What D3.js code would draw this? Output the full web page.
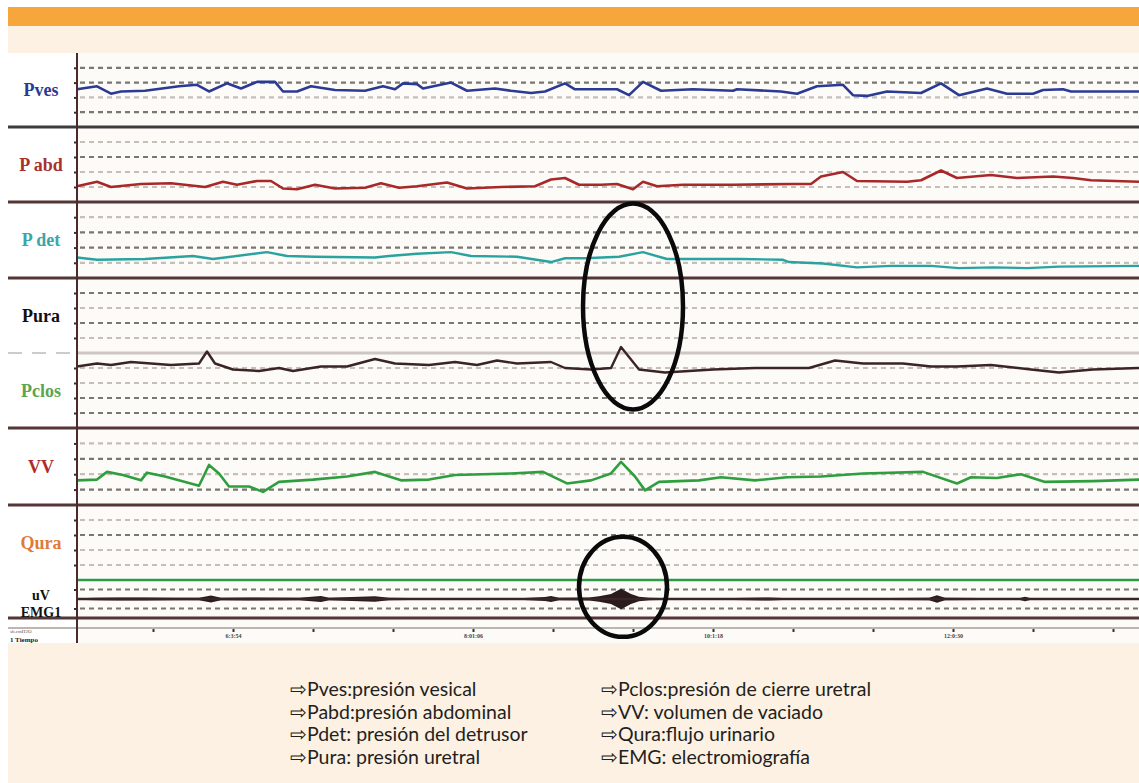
<!DOCTYPE html>
<html>
<head>
<meta charset="utf-8">
<script src="https://cdn.jsdelivr.net/npm/d3@7"></script>
<style>
  body { margin: 0; background: #fff; }
  svg { display: block; }
</style>
</head>
<body>
<svg id="chart" width="1139" height="783"></svg>
<script>
// time in seconds from the start of the tracing window
const timeExtent = [0, 531];

// pressure traces, [time, value] (0-100 of each channel's window)
const pvesData = [[0,51],[10,55],[17,45],[22,48],[34,49],[51,55],[60,57],[66,48],[75,59],[82,52],[90,61],[99,61],[103,48],[110,48],[117,55],[129,50],[144,49],[153,55],[159,51],[163,59],[170,58],[173,52],[187,60],[195,49],[209,52],[217,49],[227,46],[234,48],[244,59],[249,51],[262,51],[270,51],[276,43],[283,61],[292,49],[308,51],[328,49],[330,51],[352,48],[360,45],[370,55],[383,57],[388,43],[395,42],[405,48],[422,46],[432,59],[441,43],[455,52],[465,45],[478,45],[483,50],[493,51],[497,48],[531,48]];

const pabdData = [[0,21],[10,27],[17,20],[32,24],[47,25],[64,20],[73,27],[80,23],[90,28],[97,28],[103,18],[110,17],[119,23],[129,18],[144,19],[152,25],[161,19],[170,21],[185,26],[195,18],[212,20],[229,21],[237,30],[244,32],[251,23],[262,23],[270,24],[278,17],[283,27],[290,21],[303,23],[328,23],[358,24],[367,24],[372,34],[383,40],[390,28],[415,27],[422,29],[432,42],[440,32],[457,36],[470,32],[488,34],[498,32],[507,29],[531,27]];

const pdetData = [[0,27],[10,24],[34,25],[58,29],[68,25],[95,34],[105,29],[119,28],[149,27],[156,29],[170,32],[187,34],[197,29],[220,28],[237,21],[244,26],[254,26],[271,28],[283,34],[295,25],[332,25],[353,24],[356,21],[373,19],[390,14],[407,16],[427,16],[441,13],[458,14],[475,13],[491,15],[531,16]];

const puraData = [[0,41],[10,43],[17,42],[27,44],[37,43],[47,42],[61,43],[65,51],[69,43],[78,39],[91,38],[101,40],[108,38],[122,41],[135,41],[149,46],[159,43],[176,42],[189,44],[200,42],[210,45],[220,43],[237,44],[244,40],[257,39],[267,40],[272,54],[281,39],[294,37],[318,39],[339,40],[366,40],[379,45],[393,43],[413,43],[427,41],[440,41],[457,42],[477,39],[491,37],[508,39],[531,40]];

const vvData = [[0,32],[10,33],[15,43],[23,39],[32,32],[35,42],[44,37],[61,25],[66,52],[71,41],[76,24],[86,24],[93,17],[101,30],[118,33],[135,37],[149,43],[162,32],[176,33],[189,39],[217,41],[233,43],[245,28],[257,32],[267,41],[272,56],[279,37],[284,19],[291,30],[311,32],[322,36],[339,32],[355,36],[372,37],[393,41],[423,43],[440,28],[447,36],[460,35],[472,40],[484,30],[508,31],[531,33]];

const quraData = [[0,0],[531,0]];

// EMG envelope, [time, half amplitude in uV]
const emgData = [[0,2],[9,3],[20,4],[34,4],[50,3],[61,3],[67,9],[72,3],[86,4],[111,3],[122,8],[126,3],[149,7],[156,3],[176,2],[221,2],[234,5],[237,8],[241,3],[256,4],[261,7],[267,13],[272,27],[277,13],[281,6],[286,3],[296,2],[321,2],[346,4],[356,2],[386,2],[426,3],[430,10],[434,3],[471,2],[474,6],[477,2],[531,2]];

const gridLevels = [20, 40, 60, 80];
const emgGrid = [-25, 25];

const timeTicks = [38, 78, 118, 158, 198, 238, 278, 318, 358, 398, 438, 478, 518];
const timeLabels = { 78: '6:3:54', 198: '8:01:06', 318: '10:1:18', 438: '12:0:30' };

const legendLeft = ['Pves:presión vesical', 'Pabd:presión abdominal', 'Pdet: presión del detrusor', 'Pura: presión uretral'];
const legendRight = ['Pclos:presión de cierre uretral', 'VV: volumen de vaciado', 'Qura:flujo urinario', 'EMG: electromiografía'];

const W = 1139, H = 783;
const plotLeft = 77, plotRight = 1139;
const chartTop = 53, chartBottom = 643;

const svg = d3.select('#chart');

// page background bands
svg.append('rect').attr('x', 8).attr('y', 7).attr('width', W - 8).attr('height', 19).attr('fill', '#f7a63c');
svg.append('rect').attr('x', 8).attr('y', 26).attr('width', W - 8).attr('height', 27).attr('fill', '#fdf1e3');
svg.append('rect').attr('x', 8).attr('y', chartBottom).attr('width', W - 8).attr('height', H - chartBottom).attr('fill', '#fdf1e3');
svg.append('rect').attr('x', 8).attr('y', chartTop).attr('width', plotLeft - 8).attr('height', chartBottom - chartTop).attr('fill', '#ffffff');
svg.append('rect').attr('x', plotLeft).attr('y', chartTop).attr('width', plotRight - plotLeft).attr('height', chartBottom - chartTop).attr('fill', '#fdfbf8');

const x = d3.scaleLinear().domain(timeExtent).range([plotLeft, plotRight]);

// one strip per channel; shade says which dotted rows print dark
const panels = [
  { label: ['Pves'], color: '#2b3a92', top: 53, bottom: 127, domain: [0, 100], grid: gridLevels, shade: [1, 0, 1, 1] },
  { label: ['P abd'], color: '#a8322b', top: 127, bottom: 202, domain: [0, 100], grid: gridLevels, shade: [0, 0, 1, 0] },
  { label: ['P det'], color: '#3aa7a6', top: 202, bottom: 278, domain: [0, 100], grid: gridLevels, shade: [0, 1, 1, 0] },
  { label: ['Pura'], color: '#111111', top: 278, bottom: 353, domain: [0, 100], grid: gridLevels, shade: [0, 1, 0, 1] },
  { label: ['Pclos'], color: '#5aa552', top: 353, bottom: 428, domain: [0, 100], grid: gridLevels, shade: [1, 1, 0, 0] },
  { label: ['VV'], color: '#b02c28', top: 428, bottom: 505, domain: [0, 100], grid: gridLevels, shade: [1, 0, 1, 0] },
  { label: ['Qura'], color: '#e0793a', top: 505, bottom: 580, domain: [0, 100], grid: gridLevels, shade: [0, 0, 1, 0] },
  { label: ['uV', 'EMG1'], color: '#111111', top: 580, bottom: 618, domain: [-50, 50], grid: emgGrid, shade: [1, 1] }
];
panels.forEach(p => {
  p.y = d3.scaleLinear().domain(p.domain).range([p.bottom, p.top]);
});

// dotted reference rows
panels.forEach(p => {
  svg.append('g')
    .selectAll('line')
    .data(p.grid)
    .join('line')
    .attr('x1', plotLeft + 3)
    .attr('x2', plotRight)
    .attr('y1', d => p.y(d))
    .attr('y2', d => p.y(d))
    .attr('stroke', (d, i) => p.shade[i] ? '#7a7670' : '#c4bfb8')
    .attr('stroke-width', 2.2)
    .attr('stroke-dasharray', '5,4');

  // little tick dots on the left axis
  svg.append('g')
    .attr('transform', `translate(${plotLeft},0)`)
    .call(d3.axisLeft(p.y).tickValues(p.grid).tickSize(3).tickFormat(''))
    .call(g => g.select('.domain').remove())
    .call(g => g.selectAll('line').attr('stroke', '#3a2a2a').attr('stroke-width', 2));
});

// strip separators
const separators = [127, 202, 278, 428, 505, 618];
svg.append('g')
  .selectAll('line')
  .data(separators)
  .join('line')
  .attr('x1', 8)
  .attr('x2', plotRight)
  .attr('y1', d => d)
  .attr('y2', d => d)
  .attr('stroke', (d, i) => i === 0 ? '#3c3c3c' : '#553636')
  .attr('stroke-width', 3);

// Pura / Pclos split
svg.append('line').attr('x1', plotLeft).attr('x2', plotRight).attr('y1', 353).attr('y2', 353)
  .attr('stroke', '#cdc6c2').attr('stroke-width', 3);
svg.append('line').attr('x1', 8).attr('x2', plotLeft).attr('y1', 353).attr('y2', 353)
  .attr('stroke', '#999').attr('stroke-width', 1).attr('stroke-dasharray', '14,10');

// time row
svg.append('line').attr('x1', 8).attr('x2', plotRight).attr('y1', 628).attr('y2', 628)
  .attr('stroke', '#bdb5b0').attr('stroke-width', 2);
svg.append('g')
  .attr('transform', 'translate(0,629)')
  .call(d3.axisBottom(x).tickValues(timeTicks).tickSize(3).tickFormat(d => timeLabels[d] || ''))
  .call(g => g.select('.domain').remove())
  .call(g => g.selectAll('line').attr('stroke', '#333').attr('stroke-width', 2))
  .call(g => g.selectAll('text').attr('dy', '0.5em').attr('font-size', 6).attr('font-family', 'Liberation Serif').attr('font-weight', 'bold').attr('fill', '#444'));

// traces
const line = y => d3.line().x(d => x(d[0])).y(d => y(d[1]));
const traces = [
  { data: pvesData, panel: 0, color: '#2b3a92', width: 2.6 },
  { data: pabdData, panel: 1, color: '#a8282a', width: 2.6 },
  { data: pdetData, panel: 2, color: '#2aa3a0', width: 2.4 },
  { data: vvData, panel: 5, color: '#2f9e3e', width: 2.6 },
  { data: quraData, panel: 6, color: '#2e9a48', width: 2.4 }
];
traces.forEach(t => {
  svg.append('path')
    .datum(t.data)
    .attr('fill', 'none')
    .attr('stroke', t.color)
    .attr('stroke-width', t.width)
    .attr('stroke-linejoin', 'round')
    .attr('d', line(panels[t.panel].y));
});

// Pura is plotted over the joint Pura/Pclos window
const yPura = d3.scaleLinear().domain([0, 100]).range([428, 278]);
svg.append('path')
  .datum(puraData)
  .attr('fill', 'none')
  .attr('stroke', '#3a2424')
  .attr('stroke-width', 2.4)
  .attr('stroke-linejoin', 'round')
  .attr('d', line(yPura));

// EMG envelope
const yEmg = panels[7].y;
svg.append('path')
  .datum(emgData)
  .attr('fill', '#2a1c1c')
  .attr('d', d3.area().x(d => x(d[0])).y0(d => yEmg(-d[1])).y1(d => yEmg(d[1])));
svg.append('path')
  .datum(emgData)
  .attr('fill', 'none')
  .attr('stroke', '#3a2424')
  .attr('stroke-width', 2.5)
  .attr('d', d3.line().x(d => x(d[0])).y(() => yEmg(0)));

// left axis
svg.append('line').attr('x1', plotLeft).attr('x2', plotLeft).attr('y1', chartTop).attr('y2', chartBottom)
  .attr('stroke', '#4a2a2a').attr('stroke-width', 2);

// channel names
panels.forEach(p => {
  const mid = (p.top + p.bottom) / 2;
  const n = p.label.length;
  svg.append('g')
    .selectAll('text')
    .data(p.label)
    .join('text')
    .attr('x', 41)
    .attr('y', (d, i) => n === 1 ? mid : mid - 4 + i * 17)
    .attr('dy', '0.35em')
    .attr('text-anchor', 'middle')
    .attr('font-family', '"Liberation Serif", serif')
    .attr('font-weight', 'bold')
    .attr('font-size', n === 1 ? 18 : 14)
    .attr('fill', p.color)
    .text(d => d);
});
svg.append('text').attr('x', 10).attr('y', 633).attr('font-size', 5).attr('font-family', 'Liberation Serif')
  .attr('fill', '#555').text('sh.cmH2O');
svg.append('text').attr('x', 10).attr('y', 642).attr('font-size', 7).attr('font-family', 'Liberation Serif')
  .attr('font-weight', 'bold').attr('fill', '#222').text('1    Tiempo');

// highlight ellipses
const marks = [
  { t: 278, v: 81, rx: 50, ry: 103, y: yPura },
  { t: 273, v: 32, rx: 44, ry: 50, y: yEmg }
];
svg.append('g')
  .selectAll('ellipse')
  .data(marks)
  .join('ellipse')
  .attr('cx', d => x(d.t))
  .attr('cy', d => d.y(d.v))
  .attr('rx', d => d.rx)
  .attr('ry', d => d.ry)
  .attr('fill', 'none')
  .attr('stroke', '#0a0a0a')
  .attr('stroke-width', 4.5);

// legend
const legendCols = [{ x: 290, items: legendLeft }, { x: 601, items: legendRight }];
legendCols.forEach(col => {
  svg.append('g')
    .selectAll('text')
    .data(col.items)
    .join('text')
    .attr('x', col.x)
    .attr('y', (d, i) => 696 + i * 22.5)
    .attr('font-family', 'Lato, "Open Sans", sans-serif')
    .attr('font-size', 19.5)
    .attr('fill', '#231f20')
    .text(d => '\u21E8' + d);
});
</script>
</body>
</html>
